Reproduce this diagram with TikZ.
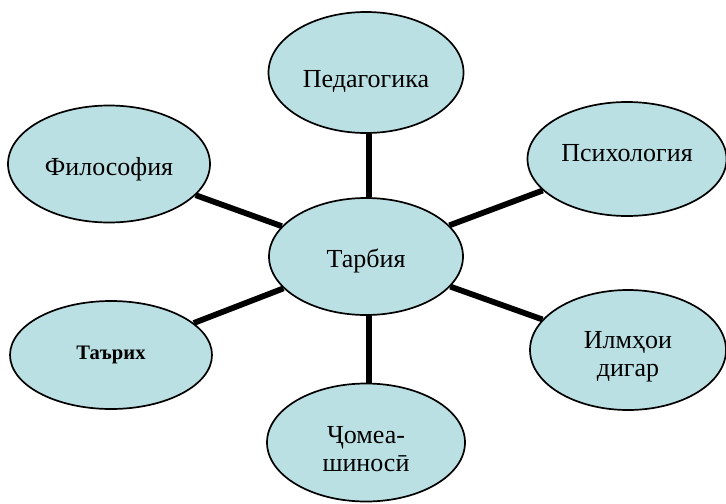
\documentclass[tikz,border=0pt]{standalone}
\usepackage{fontspec}
\setmainfont{Liberation Serif}
\usetikzlibrary{shapes.geometric}
\definecolor{bubble}{RGB}{187,224,227}
\newcommand{\shifttext}[2]{\raisebox{#1}[\height][\depth]{\begin{tabular}{@{}c@{}}#2\end{tabular}}}
\tikzset{
  bub/.style={ellipse, draw=black, line width=0.85pt, fill=bubble, inner sep=0pt, align=center,
    font=\fontsize{13}{14}\selectfont},
  conn/.style={line width=2.9pt, black}
}
\begin{document}
\begin{tikzpicture}[x=0.5pt,y=-0.5pt]
\useasboundingbox (0,0) rectangle (726,503);
\node[bub, minimum width=97.5pt, minimum height=60.5pt] (ped) at (366,72.5) {\shifttext{-4.75pt}{Педагогика}};
\node[bub, minimum width=101pt, minimum height=58.5pt] (phil) at (109,164) {\shifttext{-3pt}{Философия}};
\node[bub, minimum width=99.5pt, minimum height=57pt] (psy) at (627,159) {\shifttext{1.5pt}{Психология}};
\node[bub, minimum width=97pt, minimum height=58.5pt] (tar) at (366,256.5) {\shifttext{-2.75pt}{Тарбия}};
\node[bub, minimum width=101pt, minimum height=54pt, font=\bfseries\fontsize{10.3}{12}\selectfont] (tarix) at (111,355) {Таърих};
\node[bub, minimum width=99pt, minimum height=59pt] (jom) at (366,442.5) {\shifttext{-4.5pt}{Ҷомеа-\\шиносӣ}};
\node[bub, minimum width=98pt, minimum height=60pt] (ilm) at (628,350) {\shifttext{-3.5pt}{Илмҳои\\дигар}};
\draw[conn] ([xshift=1.5pt]tar.north) -- ([xshift=1.5pt]ped.south);
\draw[conn] (tar) -- (phil);
\draw[conn] (tar) -- (psy);
\draw[conn] (tar) -- (tarix);
\draw[conn] ([xshift=1.5pt]tar.south) -- ([xshift=1.5pt]jom.north);
\draw[conn] (tar) -- (ilm);
\end{tikzpicture}
\end{document}
